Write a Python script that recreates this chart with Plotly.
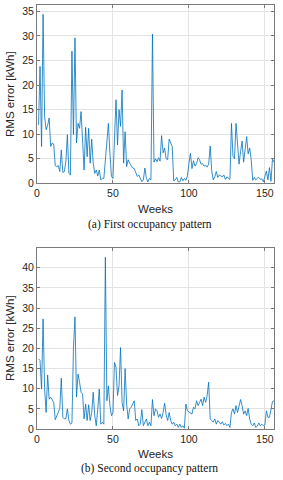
import plotly.graph_objects as go

# RMS error [kWh] per week, first occupancy pattern
rms_first = [11.9, 23.8, 7.5, 34.4, 13.6, 10.9, 11.8, 13.3, 7.5, 8.2,
             8.0, 3.6, 3.4, 3.6, 2.4, 6.8, 2.2, 2.4, 4.4, 9.9,
             2.0, 1.7, 26.9, 9.9, 29.6, 8.2, 12.2, 11.2, 14.6, 9.5,
             2.7, 11.4, 5.4, 11.2, 4.1, 9.0, 4.1, 2.0, 2.7, 1.5,
             2.7, 0.7, 1.0, 1.0, 5.0, 8.2, 12.2, 6.1, 1.4, 1.0,
             8.8, 17.0, 7.8, 15.0, 11.6, 19.0, 4.1, 10.5, 3.4, 4.8,
             4.1, 3.7, 3.1, 3.0, 2.0, 1.4, 1.7, 0.8, 0.3, 0.7,
             3.1, 1.0, 0.3, 1.0, 0.7, 30.4, 4.3, 5.0, 4.4, 5.2,
             4.5, 9.7, 6.2, 7.2, 5.0, 4.8, 9.0, 8.2, 7.5, 0.5,
             0.7, 1.2, 0.3, 0.3, 1.2, 0.5, 1.0, 0.6, 1.5, 4.0,
             6.1, 3.0, 4.6, 3.5, 4.0, 5.2, 4.8, 3.9, 4.0, 3.5,
             3.7, 3.3, 3.9, 7.6, 2.5, 0.7, 1.3, 2.4, 1.2, 1.7,
             1.5, 1.3, 1.7, 0.8, 1.3, 1.0, 0.8, 12.2, 5.5, 5.0,
             12.2, 8.0, 3.9, 6.5, 8.6, 4.3, 6.5, 9.5, 6.0, 7.2,
             4.8, 0.6, 1.2, 0.7, 1.0, 1.2, 0.8, 0.9, 0.3, 1.7,
             2.5, 0.7, 3.2, 0.4, 4.9, 4.3]

# RMS error [kWh] per week, second occupancy pattern
rms_second = [17.4, 17.0, 9.9, 27.3, 10.0, 4.1, 13.4, 7.4, 7.9, 7.4,
              6.6, 2.3, 3.3, 4.3, 5.1, 12.6, 2.9, 2.5, 2.6, 5.0,
              2.1, 1.2, 1.5, 20.0, 27.8, 7.9, 13.6, 11.6, 9.1, 8.7,
              2.5, 6.2, 2.1, 6.0, 2.1, 4.0, 9.1, 3.3, 0.8, 5.0,
              9.9, 1.2, 1.7, 1.2, 42.6, 7.0, 10.7, 5.8, 3.3, 4.0,
              16.5, 15.3, 8.3, 10.7, 20.2, 6.6, 4.5, 15.0, 6.2, 2.5,
              5.0, 5.4, 6.2, 7.0, 2.1, 2.5, 0.8, 1.2, 4.8, 0.8,
              1.7, 2.5, 0.8, 1.7, 0.8, 7.3, 3.3, 5.0, 4.5, 2.9,
              3.7, 2.6, 4.1, 6.4, 3.5, 2.1, 4.1, 2.1, 1.2, 1.7,
              0.8, 1.2, 0.4, 1.2, 0.4, 0.8, 0.2, 6.2, 4.5, 4.3,
              4.1, 3.7, 5.4, 5.0, 7.0, 5.8, 6.6, 7.4, 5.8, 7.9,
              6.6, 8.3, 11.6, 2.5, 2.1, 1.7, 2.5, 1.2, 2.1, 1.7,
              1.2, 1.8, 1.0, 1.4, 0.8, 1.2, 0.4, 4.1, 5.0, 3.7,
              5.8, 4.1, 6.0, 7.3, 5.8, 3.7, 4.5, 3.3, 5.1, 2.5,
              1.2, 0.8, 1.5, 0.4, 0.7, 1.5, 0.8, 1.2, 0.8, 1.0,
              4.5, 2.9, 2.9, 5.0, 6.8, 7.0]

weeks_first = list(range(1, len(rms_first) + 1))
weeks_second = list(range(1, len(rms_second) + 1))

x_ticks = [0, 50, 100, 150]
y_ticks_first = [0, 5, 10, 15, 20, 25, 30, 35]
y_ticks_second = [0, 5, 10, 15, 20, 25, 30, 35, 40]

W, H = 283, 480
ML, MR, MT, MB = 37, 9, 5, 51
PW = W - ML - MR
PH = H - MT - MB

def px_x(px):
    return (px - ML) / PW

def px_y(py):
    return (H - MB - py) / PH

LINE = '#0072BD'
AXC = '#262626'

fig = go.Figure()
fig.add_trace(go.Scatter(x=weeks_first, y=rms_first, mode='lines',
                         line=dict(color=LINE, width=0.8), xaxis='x', yaxis='y',
                         showlegend=False))
fig.add_trace(go.Scatter(x=weeks_second, y=rms_second, mode='lines',
                         line=dict(color=LINE, width=0.8), xaxis='x2', yaxis='y2',
                         showlegend=False))

axis_common = dict(showline=True, linecolor='#7a7a7a', linewidth=1, mirror='ticks',
                   ticks='inside', ticklen=3, tickcolor='#7a7a7a',
                   showgrid=True, gridcolor='#e3e3e3', gridwidth=1, zeroline=False,
                   automargin=False,
                   tickfont=dict(family='Liberation Sans, Arial', size=10.5, color=AXC))

top_bottom = px_y(183.3)
bot_top = px_y(248.3)

fig.update_layout(
    width=W, height=H,
    margin=dict(l=ML, r=MR, t=MT, b=MB),
    paper_bgcolor='white', plot_bgcolor='white',
    xaxis=dict(domain=[0, 1], range=[0, 156], tickvals=x_ticks, anchor='y', **axis_common),
    yaxis=dict(domain=[top_bottom, 1], range=[0, 36.3], tickvals=y_ticks_first, anchor='x', **axis_common),
    xaxis2=dict(domain=[0, 1], range=[0, 156], tickvals=x_ticks, anchor='y2', **axis_common),
    yaxis2=dict(domain=[0, bot_top], range=[0, 44.8], tickvals=y_ticks_second, anchor='x2', **axis_common),
)

lab_font = dict(family='Liberation Sans, Arial', size=11.5, color=AXC)
cap_font = dict(family='Liberation Serif, Times New Roman', size=11.5, color='#111111')

annotations = [
    dict(text='Weeks', x=px_x(155.5), y=px_y(209), font=lab_font),
    dict(text='(a) First occupancy pattern', x=px_x(149.5), y=px_y(224), font=cap_font),
    dict(text='Weeks', x=px_x(155.5), y=px_y(454), font=lab_font),
    dict(text='(b) Second occupancy pattern', x=px_x(149.5), y=px_y(468), font=cap_font),
    dict(text='RMS error [kWh]', x=px_x(10), y=px_y(94), font=lab_font, textangle=-90),
    dict(text='RMS error [kWh]', x=px_x(10), y=px_y(338), font=lab_font, textangle=-90),
]
for a in annotations:
    a.update(xref='paper', yref='paper', showarrow=False, xanchor='center', yanchor='middle')
fig.update_layout(annotations=annotations)

fig.write_html('out.html',
               config={'displayModeBar': False},
               post_script="document.body.style.margin='0';document.body.style.padding='0';")
